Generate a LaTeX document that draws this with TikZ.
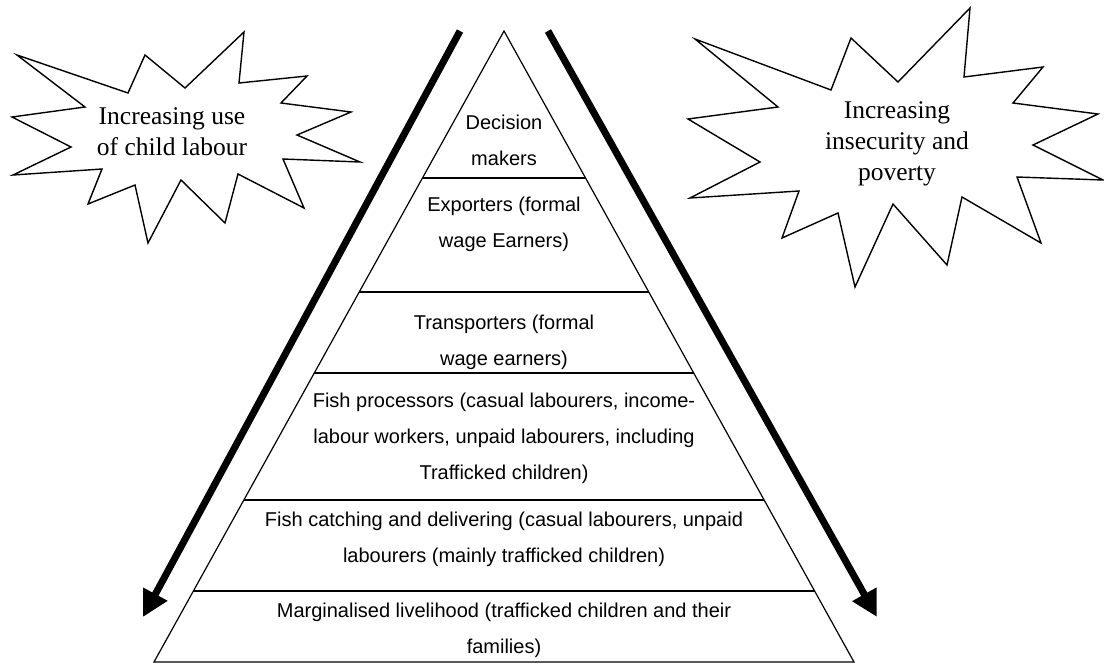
\documentclass[tikz,border=0pt]{standalone}
\usepackage{fontspec}
\setmainfont{Liberation Serif}
\newfontfamily\arialf{Liberation Sans}
\usetikzlibrary{arrows.meta,calc}
\begin{document}
\begin{tikzpicture}[x=1pt,y=-1pt,
  layer/.style={font=\arialf\fontsize{20}{36}\selectfont, align=center, inner sep=0pt},
  startext/.style={font=\fontsize{25.5}{31}\selectfont, align=center, inner sep=0pt},
  starline/.style={draw=black, line width=1.4pt, line join=miter, fill=white},
  pyrline/.style={draw=black, line width=1.2pt},
  bigarrow/.style={line width=7pt, -{Triangle[length=26pt,width=26pt]}}]
\useasboundingbox[fill=white] (0,0) rectangle (1104,665);

% pyramid
\coordinate (apex) at (504,31);
\coordinate (bl) at (154,662);
\coordinate (br) at (854,662);
\draw[pyrline, line join=miter] (apex) -- (bl) -- (br) -- cycle;
\foreach \f in {0.233,0.4136,0.542,0.7433,0.8875}{
  \draw[pyrline] ($(apex)!\f!(bl)$) -- ($(apex)!\f!(br)$);
}

\node[layer] (l1) at (504,140) {Decision\\makers};
\node[layer] (l2) at (504,224.5) {Exporters (formal\\wage Earners)};
\node[layer] (l3) at (504,342) {Transporters (formal\\wage earners)};
\node[layer] (l4) at (504,438.5) {Fish processors (casual labourers, income-\\labour workers, unpaid labourers, including\\Trafficked children)};
\node[layer] (l5) at (504,539) {Fish catching and delivering (casual labourers, unpaid\\labourers (mainly trafficked children)};
\node[layer] (l6) at (504,630) {Marginalised livelihood (trafficked children and their\\families)};

% arrows
\coordinate (la0) at (460,31);
\coordinate (la1) at (143,617);
\coordinate (ra0) at (548,31);
\coordinate (ra1) at (877,617);
\draw[bigarrow] (la0) -- (la1);
\draw[bigarrow] (ra0) -- (ra1);

% left star
\draw[starline] (17,55) -- (128,93) -- (145,55) -- (185,88) -- (244,32) -- (239,83) -- (307,76) -- (281,103) -- (351,112) -- (297,135) -- (360,162) -- (283,159) -- (304,208) -- (238,174) -- (225,223) -- (181,180) -- (148,243) -- (135,185) -- (88,204) -- (102,169) -- (13,175) -- (71,147) -- (12,117) -- (85,107) -- cycle;
\node[startext] (s1) at (172,132) {Increasing use\\of child labour};

% right star
\draw[starline] (695,39) -- (831,90) -- (851,38) -- (898,82) -- (970,8) -- (964,77) -- (1043,67) -- (1013,103) -- (1098,114) -- (1033,145) -- (1103,180) -- (1017,177) -- (1041,243) -- (962,197) -- (947,265) -- (893,204) -- (855,287) -- (838,213) -- (782,238) -- (799,191) -- (690,198) -- (760,162) -- (688,119) -- (778,107) -- cycle;
\node[startext] (s2) at (897,144) {Increasing\\insecurity and\\poverty};
\end{tikzpicture}
\end{document}
